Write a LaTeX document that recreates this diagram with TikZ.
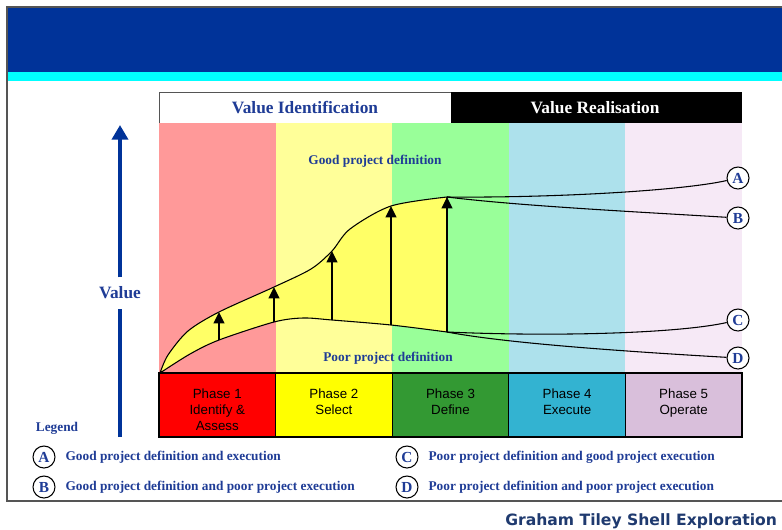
\documentclass[tikz,border=0pt]{standalone}
\usepackage{fontspec}
\setmainfont{Liberation Serif}
\setsansfont{Liberation Sans}
\newfontfamily\creditfont{DejaVu Sans}
\usetikzlibrary{arrows.meta,positioning}
\definecolor{hdrblue}{HTML}{003399}
\definecolor{hdrcyan}{HTML}{00FFFF}
\definecolor{txtblue}{HTML}{1F3C96}
\definecolor{credblue}{HTML}{1F3A6F}
\definecolor{framegray}{HTML}{555555}
\definecolor{colA}{HTML}{FF9999}
\definecolor{colB}{HTML}{FFFF99}
\definecolor{colC}{HTML}{99FF99}
\definecolor{colD}{HTML}{ADE1EC}
\definecolor{colE}{HTML}{F6E9F6}
\definecolor{phA}{HTML}{FF0000}
\definecolor{phB}{HTML}{FFFF00}
\definecolor{phC}{HTML}{339933}
\definecolor{phD}{HTML}{33B3D1}
\definecolor{phE}{HTML}{D9BFDB}
\definecolor{areayel}{HTML}{FFFF66}
\begin{document}
\begin{tikzpicture}[x=.75pt,y=-.75pt,
    bluetxt/.style={text=txtblue,font=\bfseries\fontsize{10}{12}\selectfont},
    headtxt/.style={font=\bfseries\fontsize{13}{15}\selectfont},
    casemark/.style={circle,draw,fill=white,line width=.8pt,inner sep=0pt,minimum size=16.5pt,text=txtblue,font=\bfseries\fontsize{11.5}{11.5}\selectfont},
    phasetxt/.style={align=center,anchor=north,inner sep=0pt,font=\sffamily\fontsize{10}{12}\selectfont},
    rise/.style={line width=1.6pt,-{Triangle[width=8pt,length=8.5pt]}},
    valuecurve/.style={line width=.8pt},
    valueaxis/.style={hdrblue,line width=3pt}]
  \useasboundingbox (0,0) rectangle (782,529);
  \fill[hdrblue] (7,7) rectangle (782,72);
  \fill[hdrcyan] (7,72) rectangle (782,81);
  \draw[framegray,line width=1pt] (7,7) rectangle (800,501);
  \draw[framegray,fill=white] (159,92) rectangle (451,123);
  \fill (451,92) rectangle (742,123);
  \node[headtxt,text=txtblue] (ident) at (305,108) {Value Identification};
  \node[headtxt,text=white] (realis) at (595,108) {Value Realisation};
  \foreach \c [count=\i from 0] in {colA,colB,colC,colD,colE}
    \fill[\c] (159+116.6*\i,123) rectangle +(116.6,250);
  \foreach \p/\t [count=\i from 0] in {phA/{Phase 1\\Identify \&\\Assess},phB/{Phase 2\\Select},phC/{Phase 3\\Define},phD/{Phase 4\\Execute},phE/{Phase 5\\Operate}}{
    \draw[line width=1pt,fill=\p] (159+116.6*\i,373) rectangle +(116.6,64);
    \node[phasetxt] (phase\i) at (217.3+116.6*\i,389) {\t};
  }
  \node[bluetxt] (gooddef) at (375,161) {Good project definition};
  \node[bluetxt] (poordef) at (388,358) {Poor project definition};
  \coordinate (o) at (160,373);
  \path (219,312) coordinate (u1) (274,287) coordinate (u2) (332,251) coordinate (u3)
        (391,206) coordinate (u4) (447,197) coordinate (u5);
  \path (219,340) coordinate (l1) (274,322) coordinate (l2) (332,320) coordinate (l3)
        (391,325) coordinate (l4) (447,332) coordinate (l5);
  \draw[valuecurve,fill=areayel] plot[smooth] coordinates {(o) (168,355) (188,331) (u1) (u2) (311,269) (u3) (350,229) (u4) (u5)}
     -- plot[smooth] coordinates {(l5) (l4) (l3) (303,318) (l2) (l1) (190,354) (o)} -- cycle;
  \node[casemark] (caseA) at (738,178) {A};
  \node[casemark] (caseB) at (738,218) {B};
  \node[casemark] (caseC) at (738,320) {C};
  \node[casemark] (caseD) at (738,358) {D};
  \draw[valuecurve] (u5) .. controls (550,198) and (680,191) .. (caseA);
  \draw[valuecurve] (u5) .. controls (520,206) and (640,212) .. (caseB);
  \draw[valuecurve] (l5) .. controls (560,337) and (680,333) .. (caseC);
  \draw[valuecurve] (l5) .. controls (500,342) and (600,350) .. (caseD);
  \foreach \k in {1,...,5}
    \draw[rise] (l\k) -- (u\k);
  \node[headtxt,text=txtblue,minimum height=23pt,inner sep=0pt] (value) at (120,293) {Value};
  \coordinate (vbase) at (120,437);
  \coordinate (vtop) at (120,125);
  \draw[valueaxis] (vbase) -- (value.south);
  \draw[valueaxis,-{Triangle[width=12pt,length=11pt]}] (value.north) -- (vtop);
  \node[bluetxt] (legend) at (57,428) {Legend};
  \node[casemark] (keyA) at (44,457) {A};
  \node[casemark] (keyB) at (44,487) {B};
  \node[casemark] (keyC) at (407,457) {C};
  \node[casemark] (keyD) at (407,487) {D};
  \node[bluetxt,right=4pt of keyA] (keytxtA) {Good project definition and execution};
  \node[bluetxt,right=4pt of keyB] (keytxtB) {Good project definition and poor project execution};
  \node[bluetxt,right=4pt of keyC] (keytxtC) {Poor project definition and good project execution};
  \node[bluetxt,right=4pt of keyD] (keytxtD) {Poor project definition and poor project execution};
  \node[text=credblue,font=\creditfont\bfseries\fontsize{11.7}{14}\selectfont,anchor=base west,inner sep=0pt] (credit) at (505,525) {Graham Tiley Shell Exploration};
\end{tikzpicture}
\end{document}
